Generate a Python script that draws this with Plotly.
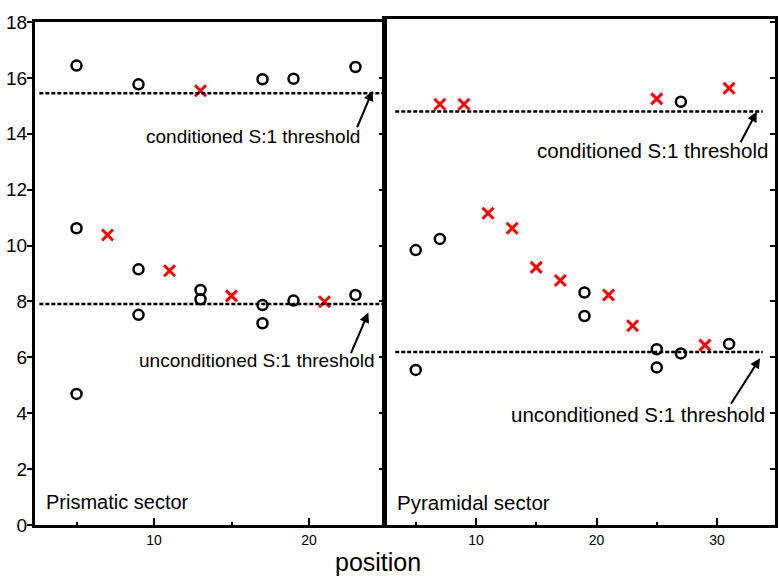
import plotly.graph_objects as go

# ---------------- data ----------------
# Prismatic sector (left panel)
pris_circle_x = [5, 9, 17, 19, 23, 5, 9, 13, 13, 9, 17, 17, 19, 23, 5]
pris_circle_y = [16.44, 15.77, 15.95, 15.97, 16.39, 10.62, 9.15, 8.41, 8.08, 7.52, 7.87, 7.22, 8.03, 8.23, 4.69]
pris_cross_x = [13, 7, 11, 15, 21]
pris_cross_y = [15.54, 10.38, 9.10, 8.20, 7.99]
pris_thr_x = [2.6, 24.8]
pris_cond_thr = 15.45
pris_uncond_thr = 7.91

# Pyramidal sector (right panel)
pyr_circle_x = [27, 5, 7, 19, 19, 25, 25, 27, 31, 5]
pyr_circle_y = [15.15, 9.84, 10.24, 8.32, 7.48, 6.29, 5.64, 6.14, 6.48, 5.55]
pyr_cross_x = [7, 9, 25, 31, 11, 13, 15, 17, 21, 23, 29]
pyr_cross_y = [15.06, 15.06, 15.25, 15.63, 11.16, 10.62, 9.22, 8.75, 8.23, 7.13, 6.44]
pyr_thr_x = [3.3, 33.8]
pyr_cond_thr = 14.80
pyr_uncond_thr = 6.19

y_ticks = [0, 2, 4, 6, 8, 10, 12, 14, 16, 18]
left_x_ticks = [10, 20]
right_x_ticks = [10, 20, 30]

FONT = "Liberation Sans, Arial, sans-serif"
W, H = 780, 578

fig = go.Figure()

circ = dict(symbol="circle-open", size=10, color="black", line=dict(width=2.5, color="black"))
cross = dict(symbol="x-thin-open", size=11, color="red", line=dict(width=3, color="red"))
thr_line = dict(color="black", width=2.5, dash="4px,2px")

fig.add_trace(go.Scatter(x=pris_circle_x, y=pris_circle_y, mode="markers", marker=circ,
                         xaxis="x", yaxis="y", showlegend=False))
fig.add_trace(go.Scatter(x=pris_cross_x, y=pris_cross_y, mode="markers", marker=cross,
                         xaxis="x", yaxis="y", showlegend=False))
fig.add_trace(go.Scatter(x=pris_thr_x, y=[pris_cond_thr] * 2, mode="lines", line=thr_line,
                         xaxis="x", yaxis="y3", showlegend=False))
fig.add_trace(go.Scatter(x=pris_thr_x, y=[pris_uncond_thr] * 2, mode="lines", line=thr_line,
                         xaxis="x", yaxis="y3", showlegend=False))

fig.add_trace(go.Scatter(x=pyr_circle_x, y=pyr_circle_y, mode="markers", marker=circ,
                         xaxis="x2", yaxis="y2", showlegend=False))
fig.add_trace(go.Scatter(x=pyr_cross_x, y=pyr_cross_y, mode="markers", marker=cross,
                         xaxis="x2", yaxis="y2", showlegend=False))
fig.add_trace(go.Scatter(x=pyr_thr_x, y=[pyr_cond_thr] * 2, mode="lines", line=thr_line,
                         xaxis="x2", yaxis="y4", showlegend=False))
fig.add_trace(go.Scatter(x=pyr_thr_x, y=[pyr_uncond_thr] * 2, mode="lines", line=thr_line,
                         xaxis="x2", yaxis="y4", showlegend=False))

y_bot = 1 - 525 / H
left_top = 1 - 22 / H
right_top = 1 - 19 / H
right_ymax = (525 - 19) / 27.94

xcommon = dict(showline=True, linecolor="black", linewidth=2.5, mirror=True,
               ticks="inside", ticklen=7, tickwidth=2, tickcolor="black",
               minor=dict(ticks="inside", ticklen=3, tickwidth=2, dtick=5, tick0=0, tickcolor="black"),
               showgrid=False, zeroline=False, automargin=False,
               tickfont=dict(family=FONT, size=14, color="black"))

fig.update_layout(
    template="none",
    width=W, height=H, margin=dict(l=0, r=0, t=0, b=0, autoexpand=False),
    paper_bgcolor="white", plot_bgcolor="white",
    font=dict(family=FONT, color="black"),
    xaxis=dict(domain=[35 / W, 384 / W], range=[2.32, 24.84], anchor="y",
               tickvals=left_x_ticks, **xcommon),
    xaxis2=dict(domain=[385 / W, 775 / W], range=[2.45, 34.81], anchor="y2",
                tickvals=right_x_ticks, **xcommon),
    yaxis=dict(domain=[y_bot, left_top], range=[0, 18], anchor="x",
               tickvals=y_ticks, ticks="outside", ticklen=5, tickwidth=2, tickcolor="black",
               ticklabelstandoff=-4,
               showline=True, linecolor="black", linewidth=3, automargin=False,
               showgrid=False, zeroline=False,
               tickfont=dict(family=FONT, size=19, color="black")),
    yaxis3=dict(overlaying="y", anchor="x", side="right", range=[0, 18],
                tickvals=y_ticks, ticks="inside", ticklen=5, tickwidth=2, tickcolor="black",
                showticklabels=False, showline=True, linecolor="black", linewidth=3,
                showgrid=False, zeroline=False, automargin=False),
    yaxis2=dict(domain=[y_bot, right_top], range=[0, right_ymax], anchor="x2",
                showticklabels=False, ticks="", showline=True, linecolor="black", linewidth=3,
                showgrid=False, zeroline=False, automargin=False),
    yaxis4=dict(overlaying="y2", anchor="x2", side="right", range=[0, right_ymax],
                tickvals=y_ticks, ticks="inside", ticklen=5, tickwidth=2, tickcolor="black",
                showticklabels=False, showline=True, linecolor="black", linewidth=3,
                showgrid=False, zeroline=False, automargin=False),
)

ann = []

def text_ann(x, y, xref, yref, text, size, xanchor="right"):
    ann.append(dict(x=x, y=y, xref=xref, yref=yref, text=text, showarrow=False,
                    xanchor=xanchor, yanchor="middle",
                    font=dict(family=FONT, size=size, color="black")))

def arrow_ann(x, y, xref, yref, ax, ay):
    ann.append(dict(x=x, y=y, xref=xref, yref=yref, text="", showarrow=True,
                    ax=ax, ay=ay, arrowhead=2, arrowsize=1, arrowwidth=2,
                    arrowcolor="black"))

# left panel labels
text_ann(23.42, 13.89, "x", "y", "conditioned S:1 threshold", 19)
text_ann(24.39, 5.87, "x", "y", "unconditioned S:1 threshold", 19)
arrow_ann(24.1, 15.54, "x", "y", -16, 38)
arrow_ann(23.83, 7.6, "x", "y", -18, 42)
text_ann(2.9, 0.82, "x", "y", "Prismatic sector", 20, xanchor="left")

# right panel labels
text_ann(34.4, 13.39, "x2", "y2", "conditioned S:1 threshold", 20.5)
text_ann(34.15, 3.94, "x2", "y2", "unconditioned S:1 threshold", 20.5)
arrow_ann(33.3, 14.79, "x2", "y2", -17, 32)
arrow_ann(33.57, 5.97, "x2", "y2", -30, 47)
text_ann(3.28, 0.82, "x2", "y2", "Pyramidal sector", 20.5, xanchor="left")

# axis title
ann.append(dict(x=378 / W, y=1 - 562 / H, xref="paper", yref="paper", text="position",
                showarrow=False, xanchor="center", yanchor="middle",
                font=dict(family=FONT, size=25, color="black")))

fig.update_layout(annotations=ann)

fig.write_html("out.html")
